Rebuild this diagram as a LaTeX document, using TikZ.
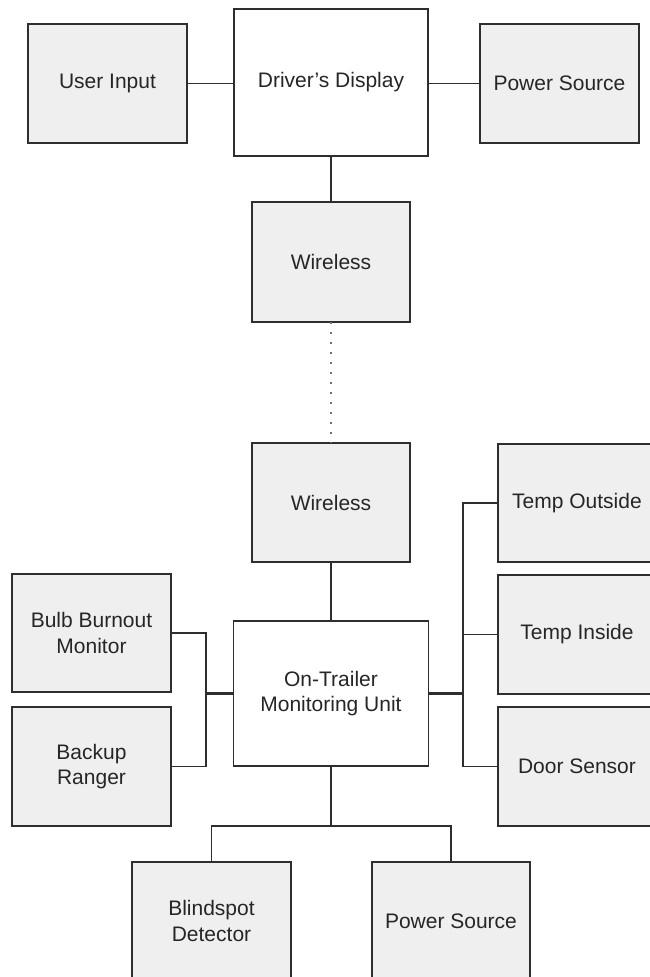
\documentclass[tikz,border=0pt]{standalone}
\usepackage{fontspec}
\setmainfont{Liberation Sans}
\definecolor{boxfill}{HTML}{EFEFEF}
\definecolor{edge}{HTML}{2E2E2E}
\definecolor{ink}{HTML}{262626}
\definecolor{dotc}{HTML}{707070}
\tikzset{
  unit/.style={draw=edge, line width=1.7pt, fill=boxfill, text=ink, align=center,
    inner sep=0pt, outer sep=0pt, font=\fontsize{21}{25.5}\selectfont},
  hub/.style={unit, fill=white},
  link/.style={draw=edge, line width=1.7pt},
  trunk/.style={draw=edge, line width=3pt},
  radio/.style={draw=dotc, line width=1.6pt, dash pattern=on 1.6pt off 8.4pt},
}
\begin{document}
\begin{tikzpicture}[x=1pt, y=-1pt]
  \useasboundingbox (0,0) rectangle (650,977);
  \fill[white] (0,0) rectangle (650,977);
  \clip (0,0) rectangle (650,977);

  % cab side
  \node[hub,  minimum width=194pt, minimum height=147pt] (dd)  at (331,82.5) {Driver's Display};
  \node[unit, minimum width=159pt, minimum height=119pt] (ui)  at (107.5,83.5) {User Input};
  \node[unit, minimum width=159pt, minimum height=119pt] (ps1) at (559.5,83.5) {Power Source};
  \node[unit, minimum width=158pt, minimum height=120pt] (w1)  at (331,262) {Wireless};

  % trailer side
  \node[unit, minimum width=158pt, minimum height=119pt] (w2)  at (331,502.5) {Wireless};
  \node[hub,  minimum width=195pt, minimum height=145pt] (ot)  at (331,693.5) {On-Trailer\\Monitoring Unit};
  \node[unit, minimum width=159pt, minimum height=118pt] (bb)  at (91.5,633) {Bulb Burnout\\Monitor};
  \node[unit, minimum width=159pt, minimum height=119pt] (br)  at (91.5,766.5) {Backup\\Ranger};
  \node[unit, minimum width=158pt, minimum height=118pt] (to)  at (577,503) {Temp Outside};
  \node[unit, minimum width=158pt, minimum height=119pt] (ti)  at (577,634.5) {Temp Inside};
  \node[unit, minimum width=158pt, minimum height=119pt] (ds)  at (577,766.5) {Door Sensor};
  \node[unit, minimum width=159pt, minimum height=118pt] (bd)  at (211.5,921) {Blindspot\\Detector};
  \node[unit, minimum width=158pt, minimum height=118pt] (ps2) at (451,921) {Power Source};

  % bus junctions
  \coordinate (lbus) at (206,693.5);
  \coordinate (rbus) at (463,693.5);
  \coordinate (bj)   at (331,826);

  % cab links
  \draw[link] (ui.east) -- (ui.east -| dd.west);
  \draw[link] (ps1.west) -- (ps1.west -| dd.east);
  \draw[link] (dd.south) -- (w1.north);

  % radio link
  \draw[radio] (w1.south) -- (w2.north);

  % trailer links
  \draw[link] (w2.south) -- (ot.north);
  \draw[link] (bb.east) -| (lbus |- br.east) -- (br.east);
  \draw[trunk] (ot.west) -- (lbus);
  \draw[link] (to.west) -| (rbus |- ds.west) -- (ds.west);
  \draw[link] (ti.west) -- (ti.west -| rbus);
  \draw[trunk] (ot.east) -- (rbus);
  \draw[link] (ot.south) -- (bj);
  \draw[link] (bd.north) |- (bj) -| (ps2.north);
\end{tikzpicture}
\end{document}
